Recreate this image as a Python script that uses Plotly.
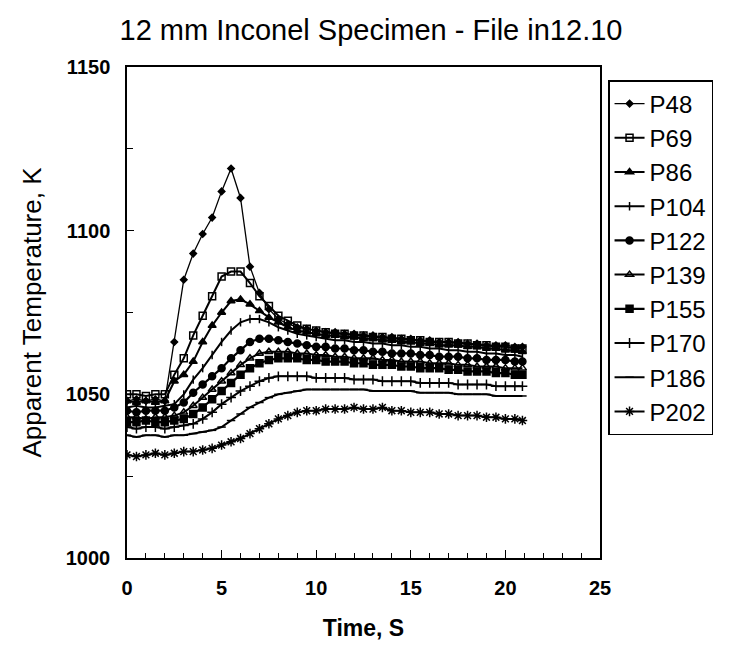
import plotly.graph_objects as go

time_s = [0, 0.5, 1.0, 1.5, 2.0, 2.5, 3.0, 3.5, 4.0, 4.5, 5.0, 5.5, 6.0, 6.5, 7.0, 7.5,
          8.0, 8.5, 9.0, 9.5, 10.0, 10.5, 11.0, 11.5, 12.0, 12.5, 13.0, 13.5, 14.0, 14.5,
          15.0, 15.5, 16.0, 16.5, 17.0, 17.5, 18.0, 18.5, 19.0, 19.5, 20.0, 20.5, 20.9]

P48 = [1048, 1048.5, 1048, 1048.5, 1048, 1066, 1085, 1093, 1099, 1104, 1112, 1119, 1110, 1089,
       1081, 1076, 1073, 1071.5, 1070.5, 1070, 1069.5, 1069, 1069, 1068.5, 1068.5, 1068, 1068,
       1067.5, 1067.5, 1067, 1067, 1066.5, 1066.5, 1066, 1066, 1066, 1065.5, 1065.5, 1065, 1065,
       1065, 1064.5, 1064.5]
P69 = [1050, 1050, 1049.5, 1050, 1050, 1056, 1061, 1068, 1074, 1080, 1086, 1087.5, 1087.5, 1084,
       1080, 1077, 1074, 1072.5, 1071, 1070, 1069.5, 1069, 1068.5, 1068.5, 1068, 1068, 1067.5,
       1067.5, 1067, 1067, 1066.5, 1066.5, 1066, 1066, 1066, 1065.5, 1065.5, 1065, 1065, 1064.5,
       1064.5, 1064, 1064]
P86 = [1048, 1047.5, 1048, 1047.5, 1048, 1054, 1056, 1060, 1066, 1071, 1075, 1078.5, 1079, 1077.5,
       1075.5, 1073.5, 1072, 1070.5, 1069.5, 1069, 1068.5, 1068, 1068, 1067.5, 1067.5, 1067, 1067,
       1066.5, 1066.5, 1066, 1066, 1065.5, 1065.5, 1065, 1065, 1065, 1064.5, 1064.5, 1064, 1064,
       1063.5, 1063.5, 1063]
P104 = [1046, 1046.5, 1046, 1046, 1046.5, 1047, 1050, 1054.5, 1058, 1062, 1066, 1069.5, 1072, 1073,
        1073, 1072, 1070.5, 1069.5, 1068.5, 1068, 1067.5, 1067, 1066.5, 1066.5, 1066, 1066, 1065.5,
        1065.5, 1065, 1065, 1064.5, 1064.5, 1064, 1064, 1063.5, 1063.5, 1063, 1063, 1062.5, 1062.5,
        1062, 1062, 1061.5]
P122 = [1045, 1044.5, 1045, 1045, 1045, 1046, 1047.5, 1050.5, 1053, 1055.5, 1058, 1061, 1063.5, 1066,
        1067, 1067, 1066.5, 1066, 1065.5, 1065, 1064.5, 1064.5, 1064, 1064, 1063.5, 1063.5, 1063,
        1063, 1062.5, 1062.5, 1062.5, 1062, 1062, 1061.5, 1061.5, 1061.5, 1061, 1061, 1060.5, 1060.5,
        1060.5, 1060, 1060]
P139 = [1043, 1043, 1042.5, 1043, 1043, 1043.5, 1044.5, 1046.5, 1049, 1051.5, 1054, 1056.5, 1059, 1061,
        1062.5, 1063, 1063, 1063, 1062.5, 1062.5, 1062, 1062, 1061.5, 1061.5, 1061, 1061, 1061,
        1060.5, 1060.5, 1060, 1060, 1060, 1059.5, 1059.5, 1059.5, 1059, 1059, 1058.5, 1058.5, 1058.5,
        1058, 1058, 1058]
P155 = [1041.5, 1041.5, 1042, 1041.5, 1041.5, 1042, 1042.5, 1044, 1046, 1048.5, 1051, 1053.5, 1056, 1058,
        1059.5, 1060.5, 1061, 1061, 1061, 1060.5, 1060.5, 1060, 1060, 1060, 1059.5, 1059.5, 1059,
        1059, 1059, 1058.5, 1058.5, 1058, 1058, 1058, 1057.5, 1057.5, 1057, 1057, 1057, 1056.5,
        1056.5, 1056, 1056]
P170 = [1040, 1039.5, 1040, 1040, 1039.5, 1040, 1040.5, 1041, 1042.5, 1044.5, 1047, 1049, 1051, 1052.5,
        1054, 1055, 1055.5, 1055.5, 1055.5, 1055.5, 1055, 1055, 1055, 1055, 1054.5, 1054.5, 1054.5,
        1054, 1054, 1054, 1054, 1053.5, 1053.5, 1053.5, 1053.5, 1053, 1053, 1053, 1053, 1052.5,
        1052.5, 1052.5, 1052.5]
P186 = [1037.5, 1037, 1037.5, 1037.5, 1037, 1037.5, 1037.5, 1038, 1038.5, 1039, 1040, 1042, 1044, 1046,
        1047.5, 1049, 1050, 1050.5, 1051, 1051.5, 1051.5, 1051.5, 1051.5, 1051.5, 1051.5, 1051.5, 1051,
        1051, 1051, 1051, 1051, 1050.5, 1050.5, 1050.5, 1050.5, 1050, 1050, 1050, 1050, 1049.5,
        1049.5, 1049.5, 1049.5]
P202 = [1031.5, 1031, 1031.5, 1032, 1031.5, 1032, 1032.5, 1032.5, 1033, 1033.5, 1034.5, 1035.5, 1036.5,
        1038, 1039.5, 1041, 1042.5, 1043.5, 1044.5, 1045, 1045, 1045.5, 1045.5, 1045.5, 1046, 1045.5,
        1045.5, 1046, 1045, 1045, 1044.5, 1044.5, 1044.5, 1044, 1044, 1043.5, 1043.5, 1043.5, 1043,
        1043, 1042.5, 1042.5, 1042]

series_names = ["P48", "P69", "P86", "P104", "P122", "P139", "P155", "P170", "P186", "P202"]
series_values = [P48, P69, P86, P104, P122, P139, P155, P170, P186, P202]
symbols = ["diamond", "square-open", "triangle-up", "line-ns-open", "circle", "triangle-up-open",
           "square", "cross-thin-open", "line-ew-open", "asterisk-open"]
sizes = [5, 7, 7, 6, 7, 7, 7, 7, 6, 8]
widths = [1.3, 2, 2, 2, 2.2, 2, 2.2, 2, 2, 2]

x_ticks = [0, 5, 10, 15, 20, 25]
y_ticks = [1000, 1050, 1100, 1150]

fig = go.Figure()
for i, (name, vals) in enumerate(zip(series_names, series_values)):
    fig.add_trace(go.Scatter(
        x=time_s, y=vals, name=name, mode="lines+markers",
        line=dict(color="black", width=widths[i]),
        marker=dict(symbol=symbols[i], size=sizes[i], color="black",
                    line=dict(color="black", width=1.5)),
    ))

font_family = "Liberation Sans, Arial, sans-serif"
fig.update_layout(
    width=726, height=648,
    paper_bgcolor="white", plot_bgcolor="white",
    margin=dict(l=119, r=134, t=59, b=98),
    font=dict(family=font_family, color="black"),
    title=dict(text="12 mm Inconel Specimen - File in12.10", x=0.5, xanchor="center",
               y=1 - 22 / 648, yanchor="middle", font=dict(size=29, color="black")),
    showlegend=True,
    legend=dict(x=1.017, xanchor="left", y=0.9735, yanchor="top",
                bordercolor="black", borderwidth=1.5, bgcolor="white",
                font=dict(size=24, color="black"), itemwidth=30),
    xaxis=dict(range=[0, 25], tickvals=x_ticks, ticks="inside", ticklen=8, tickwidth=1.2,
               tickcolor="black", showline=True, linecolor="black", linewidth=1.5, mirror=True,
               showgrid=False, zeroline=False, ticklabelstandoff=11, automargin=False,
               tickfont=dict(size=20, weight="bold"),
               minor=dict(dtick=1, ticks="inside", ticklen=5, tickcolor="black", showgrid=False),
               title=dict(text="Time, S", font=dict(size=23, weight="bold"), standoff=22)),
    yaxis=dict(range=[1000, 1150], tickvals=y_ticks, ticks="inside", ticklen=7, tickwidth=1.2,
               tickcolor="black", showline=True, linecolor="black", linewidth=1.5, mirror=True,
               showgrid=False, zeroline=False, ticklabelstandoff=11, automargin=False,
               tickfont=dict(size=20, weight="bold"),
               minor=dict(dtick=25, ticks="inside", ticklen=6, tickcolor="black", showgrid=False),
               title=dict(text="Apparent Temperature, K", font=dict(size=26), standoff=17)),
)

fig.write_html("out.html")
